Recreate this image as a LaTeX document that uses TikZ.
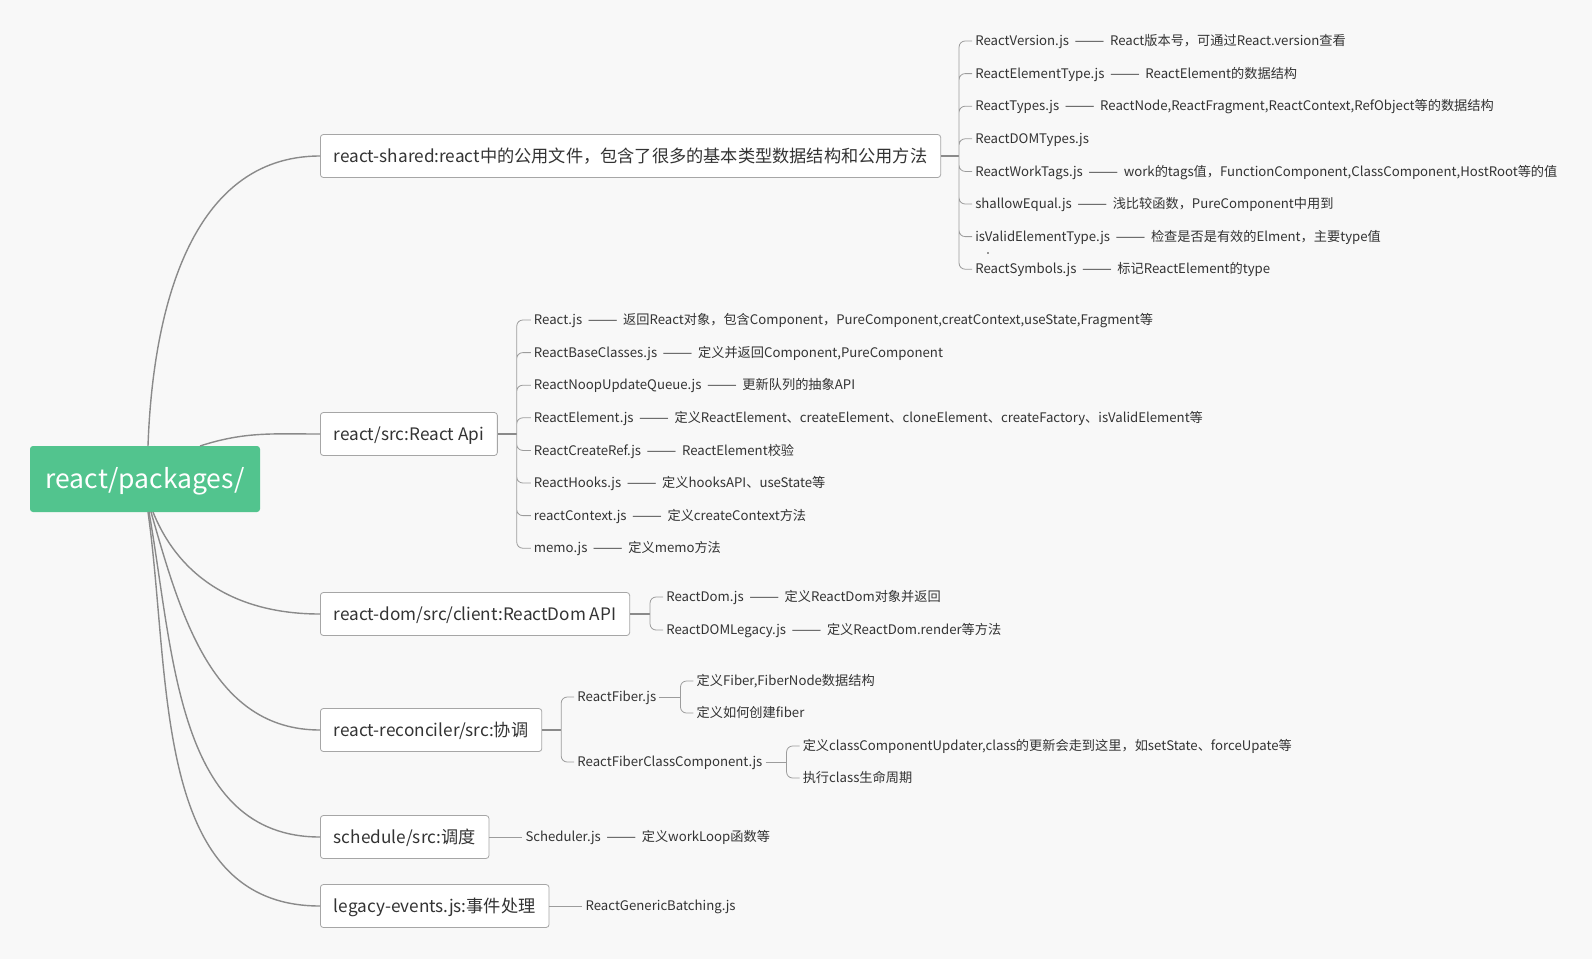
\documentclass[tikz,border=0pt]{standalone}
\usepackage{fontspec}
\setmainfont{Noto Sans CJK SC}
\usepackage{graphicx}
\usepackage{tikz}
\usetikzlibrary{positioning}

\definecolor{bggray}{HTML}{F8F8F8}
\definecolor{rootgreen}{HTML}{52C48E}
\definecolor{linegray}{HTML}{8A8A8A}
\definecolor{boxgray}{HTML}{A6A6A6}
\definecolor{textgray}{HTML}{333333}

% the long dash between a file and its note
\newcommand{\sepdash}{\hspace{0.42em}\scalebox{1.35}[1]{——}\hspace{0.42em}}

\begin{document}
\begin{tikzpicture}[x=1pt, y=-1pt]
    % settings for the whole map
    \tikzset{
      rootbox/.style={fill=rootgreen, text=white, rounded corners=3pt,
        minimum width=230pt, minimum height=66pt, inner sep=0pt,
        text height=22.8pt, text depth=3.7pt,
        font=\fontsize{26.5}{30}\selectfont},
      topic/.style={anchor=west, draw=boxgray, fill=white, line width=0.8pt,
        rounded corners=3pt, minimum height=43pt, inner xsep=13.5pt, inner ysep=0pt,
        text height=14.8pt, text depth=2.4pt, text=textgray,
        font=\fontsize{17.2}{20}\selectfont},
      leaf/.style={anchor=west, inner xsep=3pt, inner ysep=0pt,
        text height=11.35pt, text depth=1.85pt, text=textgray,
        font=\fontsize{13.2}{16}\selectfont},
      branch/.style={draw=linegray, line width=1.4pt},
      stub/.style={draw=linegray, line width=1.5pt},
      twig/.style={draw=linegray!85, line width=0.8pt, rounded corners=6pt},
    }
    \useasboundingbox (0,0) rectangle (1592,959);
    \fill[bggray] (0,0) rectangle (1592,959);

    % root and topics
    \node[rootbox] (root) at (145,479) {react/packages/};
    \node[topic] (shared) at (320,156) {react-shared:react中的公用文件，包含了很多的基本类型数据结构和公用方法};
    \node[topic] (reactapi) at (320,434) {react/src:React Api};
    \node[topic] (dom) at (320,614) {react-dom/src/client:ReactDom API};
    \node[topic] (reconciler) at (320,730) {react-reconciler/src:协调};
    \node[topic] (schedule) at (320,837) {schedule/src:调度};
    \node[topic] (legacy) at (320,906) {legacy-events.js:事件处理};

    % branches from the root
    \draw[branch] (148,446) to[out=88, in=180] (shared.west);
    \draw[branch] (200,446) to[out=18, in=180] (reactapi.west);
    \draw[branch] (153,512) to[out=-68, in=180] (dom.west);
    \draw[branch] (151,512) to[out=-74, in=180] (reconciler.west);
    \draw[branch] (149,512) to[out=-80, in=180] (schedule.west);
    \draw[branch] (148,512) to[out=-82, in=180] (legacy.west);

    % react-shared
    \coordinate (sharedj) at ([xshift=18pt]shared.east);
    \node[leaf] (version) at ([xshift=13pt]sharedj |- 0,41) {ReactVersion.js\sepdash React版本号，可通过React.version查看};
    \node[leaf] (elemtype) at ([xshift=13pt]sharedj |- 0,73.6) {ReactElementType.js\sepdash ReactElement的数据结构};
    \node[leaf] (types) at ([xshift=13pt]sharedj |- 0,106.2) {ReactTypes.js\sepdash ReactNode,ReactFragment,ReactContext,RefObject等的数据结构};
    \node[leaf] (domtypes) at ([xshift=13pt]sharedj |- 0,138.8) {ReactDOMTypes.js};
    \node[leaf] (worktags) at ([xshift=13pt]sharedj |- 0,171.4) {ReactWorkTags.js\sepdash work的tags值，FunctionComponent,ClassComponent,HostRoot等的值};
    \node[leaf] (shallow) at ([xshift=13pt]sharedj |- 0,204) {shallowEqual.js\sepdash 浅比较函数，PureComponent中用到};
    \node[leaf] (validtype) at ([xshift=13pt]sharedj |- 0,236.6) {isValidElementType.js\sepdash 检查是否是有效的Elment，主要type值};
    \node[leaf] (symbols) at ([xshift=13pt]sharedj |- 0,269.2) {ReactSymbols.js\sepdash 标记ReactElement的type};
    \node[circle, fill=textgray, inner sep=0pt, minimum size=1.8pt] (stray) at (988,253) {};
    \draw[stub] (shared.east) -- (sharedj);
    \draw[twig] (sharedj) |- (version.west) (sharedj) |- (elemtype.west)
          (sharedj) |- (types.west) (sharedj) |- (domtypes.west)
          (sharedj) |- (worktags.west) (sharedj) |- (shallow.west)
          (sharedj) |- (validtype.west) (sharedj) |- (symbols.west);

    % react/src
    \coordinate (apij) at ([xshift=19pt]reactapi.east);
    \node[leaf] (reactjs) at ([xshift=14pt]apij |- 0,320) {React.js\sepdash 返回React对象，包含Component，PureComponent,creatContext,useState,Fragment等};
    \node[leaf] (baseclasses) at ([xshift=14pt]apij |- 0,352.6) {ReactBaseClasses.js\sepdash 定义并返回Component,PureComponent};
    \node[leaf] (noop) at ([xshift=14pt]apij |- 0,385.2) {ReactNoopUpdateQueue.js\sepdash 更新队列的抽象API};
    \node[leaf] (element) at ([xshift=14pt]apij |- 0,417.8) {ReactElement.js\sepdash 定义ReactElement、createElement、cloneElement、createFactory、isValidElement等};
    \node[leaf] (createref) at ([xshift=14pt]apij |- 0,450.4) {ReactCreateRef.js\sepdash ReactElement校验};
    \node[leaf] (hooks) at ([xshift=14pt]apij |- 0,483) {ReactHooks.js\sepdash 定义hooksAPI、useState等};
    \node[leaf] (context) at ([xshift=14pt]apij |- 0,515.6) {reactContext.js\sepdash 定义createContext方法};
    \node[leaf] (memo) at ([xshift=14pt]apij |- 0,548.2) {memo.js\sepdash 定义memo方法};
    \draw[stub] (reactapi.east) -- (apij);
    \draw[twig] (apij) |- (reactjs.west) (apij) |- (baseclasses.west)
          (apij) |- (noop.west) (apij) |- (element.west)
          (apij) |- (createref.west) (apij) |- (hooks.west)
          (apij) |- (context.west) (apij) |- (memo.west);

    % react-dom
    \coordinate (domj) at ([xshift=20pt]dom.east);
    \node[leaf] (reactdom) at ([xshift=13pt]domj |- 0,597) {ReactDom.js\sepdash 定义ReactDom对象并返回};
    \node[leaf] (domlegacy) at ([xshift=13pt]domj |- 0,630) {ReactDOMLegacy.js\sepdash 定义ReactDom.render等方法};
    \draw[stub] (dom.east) -- (domj);
    \draw[twig] (domj) |- (reactdom.west) (domj) |- (domlegacy.west);

    % react-reconciler
    \coordinate (reconcilerj) at ([xshift=19pt]reconciler.east);
    \node[leaf] (fiber) at ([xshift=13pt]reconcilerj |- 0,697) {ReactFiber.js};
    \node[leaf] (fiberclass) at ([xshift=13pt]reconcilerj |- 0,762) {ReactFiberClassComponent.js};
    \draw[stub] (reconciler.east) -- (reconcilerj);
    \draw[twig] (reconcilerj) |- (fiber.west) (reconcilerj) |- (fiberclass.west);

    \coordinate (fiberj) at ([xshift=21pt]fiber.east);
    \node[leaf] (fiberdef) at ([xshift=13pt]fiberj |- 0,681) {定义Fiber,FiberNode数据结构};
    \node[leaf] (fibercreate) at ([xshift=13pt]fiberj |- 0,713) {定义如何创建fiber};
    \draw[twig] (fiber.east) -- (fiberj);
    \draw[twig] (fiberj) |- (fiberdef.west) (fiberj) |- (fibercreate.west);

    \coordinate (fiberclassj) at ([xshift=21pt]fiberclass.east);
    \node[leaf] (updater) at ([xshift=13pt]fiberclassj |- 0,746) {定义classComponentUpdater,class的更新会走到这里，如setState、forceUpate等};
    \node[leaf] (lifecycle) at ([xshift=13pt]fiberclassj |- 0,778) {执行class生命周期};
    \draw[twig] (fiberclass.east) -- (fiberclassj);
    \draw[twig] (fiberclassj) |- (updater.west) (fiberclassj) |- (lifecycle.west);

    % schedule and legacy-events
    \node[leaf, right=33pt of schedule] (scheduler) {Scheduler.js\sepdash 定义workLoop函数等};
    \draw[twig] (schedule.east) -- (scheduler.west);
    \node[leaf, right=33pt of legacy] (batching) {ReactGenericBatching.js};
    \draw[twig] (legacy.east) -- (batching.west);

  \end{tikzpicture}
\end{document}
